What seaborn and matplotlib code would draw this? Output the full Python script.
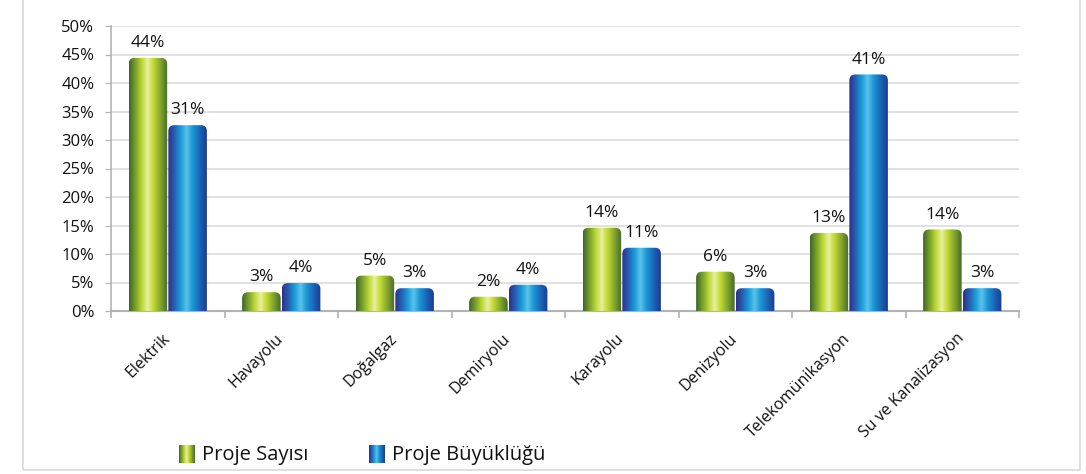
import numpy as np
import pandas as pd
import matplotlib
matplotlib.use("Agg")
import matplotlib.pyplot as plt
import seaborn as sns
from matplotlib.path import Path
from matplotlib.transforms import IdentityTransform, ScaledTranslation
from matplotlib.colors import LinearSegmentedColormap
from matplotlib.patches import Patch, Rectangle

# ---------------- data ----------------
categories = ["Elektrik", "Havayolu", "Do\u011falgaz", "Demiryolu", "Karayolu",
              "Denizyolu", "Telekomünikasyon", "Su ve Kanalizasyon"]
series_names = ["Proje Sayısı", "Proje Büyüklüğü"]
proje_sayisi = [44.4, 3.3, 6.2, 2.5, 14.6, 6.9, 13.7, 14.3]
proje_buyuklugu = [32.6, 4.9, 4.0, 4.6, 11.1, 4.0, 41.5, 4.0]
sayisi_labels = ["44%", "3%", "5%", "2%", "14%", "6%", "13%", "14%"]
buyuklugu_labels = ["31%", "4%", "3%", "4%", "11%", "3%", "41%", "3%"]
yticks = [0, 5, 10, 15, 20, 25, 30, 35, 40, 45, 50]
ytick_labels = [f"{v}%" for v in yticks]

df = pd.DataFrame({
    "Kategori": categories * 2,
    "Seri": [series_names[0]] * len(categories) + [series_names[1]] * len(categories),
    "Değer": proje_sayisi + proje_buyuklugu,
})

# ---------------- style ----------------
sns.set_style("white")
plt.rcParams["font.family"] = ["Open Sans", "DejaVu Sans"]
text_color = "#111111"

W, H = 1086, 474
fig = plt.figure(figsize=(W / 100, H / 100), dpi=100)
ax = fig.add_axes([111 / W, (H - 311) / H, (1019 - 111) / W, (311 - 26) / H])

green_mid = "#a8c832"
blue_mid = "#1f8fd0"
sns.barplot(data=df, x="Kategori", y="Değer", hue="Seri",
            palette=[green_mid, blue_mid], width=0.70, gap=0.03,
            ax=ax, legend=False, zorder=3)

ax.set_ylim(0, 50)
ax.set_xlim(-0.5, len(categories) - 0.5)
ax.set_yticks(yticks)
ax.set_yticklabels(ytick_labels, fontsize=12, color=text_color)
ax.set_xlabel("")
ax.set_ylabel("")
ax.grid(axis="y", color="#d9d9d9", linewidth=1.1, zorder=0)
ax.set_axisbelow(True)
for s in ["top", "right"]:
    ax.spines[s].set_visible(False)
ax.spines["left"].set_color("#b3b3b3")
ax.spines["bottom"].set_color("#b3b3b3")
ax.spines["left"].set_linewidth(1.2)
ax.spines["bottom"].set_linewidth(1.5)
ax.tick_params(axis="y", length=4, color="#b3b3b3", pad=8, left=True)

ax.set_xticks(range(len(categories)))
ax.set_xticklabels(categories, rotation=45, ha="right", rotation_mode="anchor",
                   fontsize=11.5, color=text_color)
ax.set_xticks(np.arange(-0.5, len(categories), 1.0), minor=True)
ax.tick_params(axis="x", which="major", length=0, pad=14)
ax.tick_params(axis="x", which="minor", length=5, color="#b3b3b3", width=1.2, bottom=True)
shift = ScaledTranslation(-6 / 100, 0, fig.dpi_scale_trans)
for lbl in ax.get_xticklabels():
    lbl.set_transform(lbl.get_transform() + shift)

# data labels
ax.bar_label(ax.containers[0], labels=sayisi_labels, padding=5, fontsize=12.5, color=text_color)
ax.bar_label(ax.containers[1], labels=buyuklugu_labels, padding=5, fontsize=12.5, color=text_color)

# ---------------- gradient bars ----------------
green_cmap = LinearSegmentedColormap.from_list("g", [
    (0.0, "#3d6629"), (0.18, "#7fa52d"), (0.33, "#bcd834"), (0.48, "#e8f0a0"),
    (0.62, "#c4da34"), (0.8, "#86a82e"), (1.0, "#43692b")])
blue_cmap = LinearSegmentedColormap.from_list("b", [
    (0.0, "#2f2f86"), (0.18, "#2465b8"), (0.33, "#1b9ed8"), (0.48, "#5cc2ea"),
    (0.62, "#1c9ad6"), (0.82, "#1a64b6"), (1.0, "#1c3a90")])
grad = np.linspace(0, 1, 256).reshape(1, -1)

fig.canvas.draw()


def rounded_top_path(x0, y0, x1, y1, r):
    r = min(r, (x1 - x0) / 2, max(y1 - y0, 0.1))
    verts = [(x0, y0), (x0, y1 - r), (x0, y1), (x0 + r, y1), (x1 - r, y1),
             (x1, y1), (x1, y1 - r), (x1, y0), (x0, y0)]
    codes = [Path.MOVETO, Path.LINETO, Path.CURVE3, Path.CURVE3, Path.LINETO,
             Path.CURVE3, Path.CURVE3, Path.LINETO, Path.CLOSEPOLY]
    return Path(verts, codes)


for cont, cmap in zip(ax.containers[:2], [green_cmap, blue_cmap]):
    for bar in cont:
        bx, bw, bh = bar.get_x(), bar.get_width(), bar.get_height()
        (dx0, dy0) = ax.transData.transform((bx, 0))
        (dx1, dy1) = ax.transData.transform((bx + bw, bh))
        path = rounded_top_path(dx0, dy0, dx1, dy1, 6)
        im = ax.imshow(grad, extent=(bx, bx + bw, 0, bh), aspect="auto",
                       cmap=cmap, zorder=4, interpolation="bilinear")
        im.set_clip_path(path, IdentityTransform())
        bar.set_visible(False)

ax.set_xlim(-0.5, len(categories) - 0.5)
ax.set_ylim(0, 50)
ax.set_aspect("auto")

# ---------------- legend ----------------
handles = [Patch(facecolor=green_mid), Patch(facecolor=blue_mid)]
leg = fig.legend(handles, series_names, loc="center", bbox_to_anchor=(362 / W, 1 - 455 / H),
                 ncol=2, frameon=False, fontsize=14.5, handlelength=0.75, handleheight=1.0,
                 handletextpad=0.4, columnspacing=3.0, labelcolor=text_color)
fig.canvas.draw()
renderer = fig.canvas.get_renderer()
for h, cmap in zip(leg.legend_handles, [green_cmap, blue_cmap]):
    bb = h.get_window_extent(renderer)
    lax = fig.add_axes([bb.x0 / W, bb.y0 / H, bb.width / W, bb.height / H])
    lax.imshow(grad, aspect="auto", cmap=cmap, interpolation="bilinear")
    lax.axis("off")
    h.set_alpha(0)

# outer chart border
fig.patches.append(Rectangle((23 / W, 4 / H), (1080 - 23) / W, 1.2,
                             transform=fig.transFigure, fill=False,
                             edgecolor="#d9d9d9", linewidth=1.2))

fig.savefig("out.png", dpi=100)
